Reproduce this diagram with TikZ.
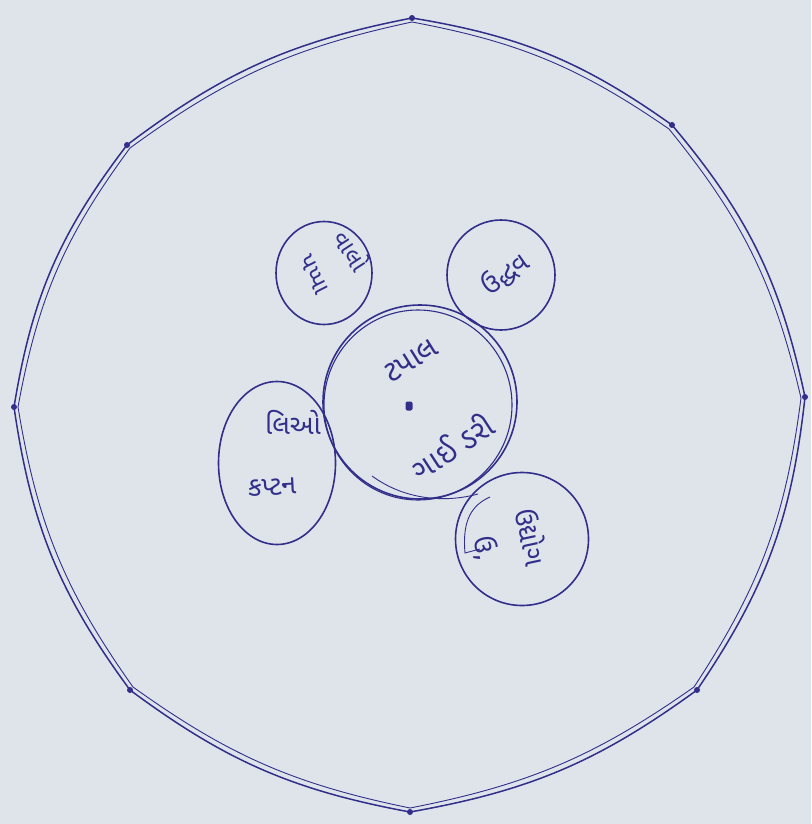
\documentclass[tikz,border=0pt]{standalone}
\usepackage{fontspec}
\newfontfamily\guj[Script=Gujarati]{Noto Sans Gujarati UI}
\usetikzlibrary{shapes.geometric}
\definecolor{ink}{RGB}{50,46,138}
\definecolor{paper}{RGB}{222,228,234}
\begin{document}
\begin{tikzpicture}[x=1pt,y=-1pt,
  inkline/.style={draw=ink,line width=1.5pt},
  thinink/.style={draw=ink,line width=0.9pt},
  bubble/.style={ellipse,draw=ink,line width=1.6pt,inner sep=0pt},
  vdot/.style={circle,fill=ink,inner sep=0pt,minimum size=6pt},
  lbl/.style={text=ink,inner sep=0pt,font=\guj\fontsize{27}{30}\selectfont},
  smalllbl/.style={text=ink,inner sep=0pt,font=\guj\fontsize{24}{27}\selectfont},
  biglbl/.style={text=ink,inner sep=0pt,font=\guj\fontsize{30}{34}\selectfont}]
\fill[paper] (0,0) rectangle (811,824);
\useasboundingbox (0,0) rectangle (811,824);
% outer ring vertices
\node[vdot] (v1) at (412,18) {};
\node[vdot] (v2) at (672,125) {};
\node[vdot] (v3) at (805,397) {};
\node[vdot] (v4) at (697,690) {};
\node[vdot] (v5) at (410,812) {};
\node[vdot] (v6) at (130,690) {};
\node[vdot] (v7) at (14,407) {};
\node[vdot] (v8) at (127,145) {};
\draw[inkline] (v1.center) to[bend left=13] (v2.center) to[bend left=14] (v3.center)
  to[bend left=14] (v4.center) to[bend left=13] (v5.center) to[bend left=13] (v6.center)
  to[bend left=14] (v7.center) to[bend left=14] (v8.center) to[bend left=13] (v1.center);
\draw[thinink] (412,22) to[bend left=12] (669,129) to[bend left=13] (801,398)
  to[bend left=13] (694,687) to[bend left=12] (410,808) to[bend left=12] (133,687)
  to[bend left=13] (18,407) to[bend left=13] (130,148) to[bend left=12] (412,22);
% center circle
\node[bubble,minimum width=194pt,minimum height=194pt] (hub) at (420,402) {};
\node[ellipse,draw=ink,line width=1.1pt,minimum width=188pt,minimum height=190pt] (hub2) at (418,405) {};
\draw[thinink] (372,476) .. controls (405,500) and (445,503) .. (478,494);
\node[fill=ink,rounded corners=2pt,minimum width=7pt,minimum height=9pt,inner sep=0pt] (hubdot) at (409,406) {};
% satellites
\node[bubble,minimum width=96pt,minimum height=103pt] (tl) at (324,273) {};
\node[bubble,minimum width=108pt,minimum height=110pt] (tr) at (501,275) {};
\node[bubble,minimum width=117pt,minimum height=163pt] (lf) at (277,463) {};
\node[bubble,minimum width=133pt,minimum height=133pt] (br) at (522,539) {};
\draw[thinink] (490,497) .. controls (472,505) and (462,520) .. (465,553) -- (480,549);
% texts
\node[biglbl,rotate=32] (hubt1) at (411,361) {ટપાલ};
\node[biglbl,rotate=33] (hubt2) at (452,446) {ગાઈ ડરી};
\node[smalllbl,rotate=-57] (tlt1) at (352,250) {વાલો};
\node[smalllbl,rotate=-63] (tlt2) at (314,275) {પપ્પા};
\node[lbl,rotate=35] (trt) at (505,274) {ઉદ્ધવ};
\node[lbl] (lft1) at (293,422) {લિઓ};
\node[lbl,rotate=3] (lft2) at (272,487) {કપ્ટન};
\node[lbl,rotate=-78] (brt1) at (532,537) {ઉદ્યોગ};
\node[lbl,rotate=-78] (brt2) at (485,548) {ઉ,};
\end{tikzpicture}
\end{document}
